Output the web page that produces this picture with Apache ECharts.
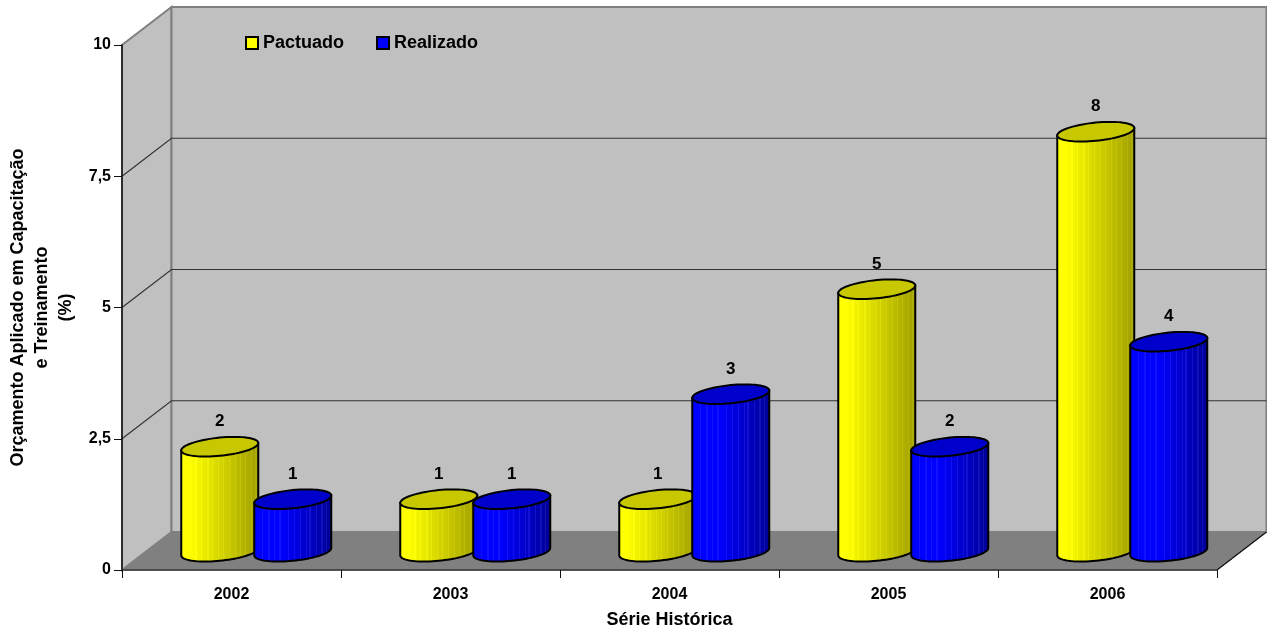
<!DOCTYPE html>
<html>
<head>
<meta charset="utf-8">
<script src="https://cdn.jsdelivr.net/npm/echarts@6/dist/echarts.min.js"></script>
<style>html,body{margin:0;padding:0;background:#fff}#c{width:1267px;height:635px}</style>
</head>
<body>
<div id="c"></div>
<script>
var categories = ['2002', '2003', '2004', '2005', '2006'];
var pactuado = [2, 1, 1, 5, 8];
var realizado = [1, 1, 3, 2, 4];
var gridValues = [2.5, 5, 7.5, 10];

var FONT = '"Liberation Sans", Arial, sans-serif';
var DEPTH_X = 49.5, DEPTH_Y = -38;
var TILT = 3.7, MINOR = 9.1, RADIUS_FRACTION = 77 / 219 / 2;
var stripesYellow = [0.07,0.13,0.2,0.27,0.35,0.41,0.48,0.55,0.62,0.7,0.76,0.83,0.9,0.96];
var stripesBlue = [0.12,0.2,0.27,0.34,0.45,0.52,0.6,0.67,0.72,0.8,0.87,0.93];

var chart = echarts.init(document.getElementById('c'), null, {renderer: 'canvas'});

function factor(dark, plateau, t) {
  return t < plateau ? 1 : 1 - (t - plateau) / (1 - plateau) * (1 - dark);
}
function rgb(base, k, add) {
  return 'rgb(' + base.map(function (c) { return Math.min(255, Math.round(c * k + add)); }).join(',') + ')';
}
function bodyFill(base, dark, plateau, stripes, add) {
  var stops = [];
  var w = 0.008;
  stops.push({offset: 0, color: rgb(base, 1, 0)});
  stripes.forEach(function (s) {
    var k = factor(dark, plateau, s);
    stops.push({offset: s - w, color: rgb(base, factor(dark, plateau, s - w), 0)});
    stops.push({offset: s - w, color: rgb(base, k, add)});
    stops.push({offset: s + w, color: rgb(base, k, add)});
    stops.push({offset: s + w, color: rgb(base, factor(dark, plateau, s + w), 0)});
  });
  stops.push({offset: 1, color: rgb(base, dark, 0)});
  return new echarts.graphic.LinearGradient(0, 0, 1, 0, stops);
}

function ellipsePoints(cx, cy, rx, from, to, n) {
  var pts = [];
  for (var i = 0; i <= n; i++) {
    var t = from + (to - from) * i / n;
    pts.push([cx + rx * Math.cos(t), cy - TILT * Math.cos(t) + MINOR * Math.sin(t)]);
  }
  return pts;
}

function cylinderRender(side, bodyColors, topColor) {
  return function (params, api) {
    var band = api.size([1, 0])[0];
    var base = api.coord([api.value(0), 0]);
    var top = api.coord([api.value(0), api.value(1)]);
    var cx = base[0] + DEPTH_X / 2 + side * band / 6;
    var by = base[1] + DEPTH_Y / 2 + 0.7;
    var ty = top[1] + DEPTH_Y / 2 + 0.7;
    var rx = band * RADIUS_FRACTION;
    var body = ellipsePoints(cx, by, rx, 0, Math.PI, 40);
    body.unshift([cx + rx, ty - TILT]);
    body.push([cx - rx, ty + TILT]);
    return {
      type: 'group',
      children: [
        {type: 'polygon', shape: {points: body},
          style: {fill: bodyColors, stroke: '#000', lineWidth: 2}},
        {type: 'polygon', shape: {points: ellipsePoints(cx, ty, rx, 0, Math.PI * 2, 72)},
          style: {fill: topColor, stroke: '#000', lineWidth: 2}},
        {type: 'text', x: cx, y: ty - 25,
          style: {text: String(api.value(1)), font: 'bold 17px ' + FONT, fill: '#000',
            align: 'center', verticalAlign: 'middle'}}
      ]
    };
  };
}

function wallsRender(params, api) {
  var c = params.coordSys;
  var L = c.x, R = c.x + c.width, B = c.y + c.height;
  var yTop = api.coord([0, 10])[1];
  var els = [];
  els.push({type: 'polygon', shape: {points: [[L, B], [L + DEPTH_X, B + DEPTH_Y], [L + DEPTH_X, yTop + DEPTH_Y], [L, yTop]]},
    style: {fill: '#c0c0c0', stroke: '#808080', lineWidth: 2}});
  els.push({type: 'polygon', shape: {points: [[L + DEPTH_X, B + DEPTH_Y], [R + DEPTH_X, B + DEPTH_Y], [R + DEPTH_X, yTop + DEPTH_Y], [L + DEPTH_X, yTop + DEPTH_Y]]},
    style: {fill: '#c0c0c0', stroke: '#808080', lineWidth: 2}});
  els.push({type: 'polygon', shape: {points: [[L, B], [L + DEPTH_X, B + DEPTH_Y], [R + DEPTH_X, B + DEPTH_Y], [R, B]]},
    style: {fill: '#808080', stroke: '#808080', lineWidth: 1}});
  gridValues.slice(0, 3).forEach(function (v) {
    var y = api.coord([0, v])[1];
    els.push({type: 'polyline', shape: {points: [[L, y], [L + DEPTH_X, y + DEPTH_Y], [R + DEPTH_X, y + DEPTH_Y]]},
      style: {fill: 'none', stroke: '#333', lineWidth: 1.2}});
  });
  els.push({type: 'line', shape: {x1: R, y1: B, x2: R + DEPTH_X, y2: B + DEPTH_Y},
    style: {stroke: '#111', lineWidth: 1.2}});
  return {type: 'group', children: els};
}

function toPoints(values) {
  return values.map(function (v, i) { return [i, v]; });
}

chart.setOption({
  animation: false,
  backgroundColor: '#fff',
  grid: {left: 122, right: 50, top: 45, bottom: 65, containLabel: false, outerBoundsMode: 'none'},
  legend: {
    data: ['Pactuado', 'Realizado'],
    left: 240, top: 29, itemWidth: 12, itemHeight: 12, itemGap: 32,
    selectedMode: false, icon: 'rect',
    textStyle: {fontFamily: FONT, fontWeight: 'bold', fontSize: 18, color: '#000'}
  },
  xAxis: {
    type: 'category', data: categories, z: 5,
    name: 'Série Histórica', nameLocation: 'middle', nameGap: 41,
    nameTextStyle: {fontFamily: FONT, fontWeight: 'bold', fontSize: 18, color: '#000'},
    axisLine: {lineStyle: {color: '#333', width: 1.5}},
    axisTick: {show: true, length: 8, alignWithLabel: false, lineStyle: {color: '#111'}},
    axisLabel: {fontFamily: FONT, fontWeight: 'bold', fontSize: 16, color: '#000', margin: 17}
  },
  yAxis: {
    type: 'value', min: 0, max: 10, interval: 2.5, z: 5,
    name: 'Orçamento Aplicado em Capacitação\ne Treinamento\n(%)',
    nameLocation: 'middle', nameRotate: 90, nameGap: 44,
    nameTextStyle: {fontFamily: FONT, fontWeight: 'bold', fontSize: 18, color: '#000', lineHeight: 24},
    axisLine: {show: true, lineStyle: {color: '#111', width: 1.5}},
    axisTick: {show: true, length: 8, lineStyle: {color: '#111'}},
    splitLine: {show: false},
    axisLabel: {fontFamily: FONT, fontWeight: 'bold', fontSize: 16, color: '#000', margin: 11,
      formatter: function (v) { return String(v).replace('.', ','); }}
  },
  series: [
    {type: 'custom', name: 'walls', z: 1, silent: true, data: [[0, 0]], renderItem: wallsRender,
      encode: {x: 0, y: 1}},
    {type: 'custom', name: 'Pactuado', z: 3, data: toPoints(pactuado),
      itemStyle: {color: '#ffff00', borderColor: '#000', borderWidth: 1.5},
      encode: {x: 0, y: 1},
      renderItem: cylinderRender(-1, bodyFill([255, 255, 0], 0.62, 0.12, stripesYellow, 10), '#c8c800')},
    {type: 'custom', name: 'Realizado', z: 4, data: toPoints(realizado),
      itemStyle: {color: '#0000ff', borderColor: '#000', borderWidth: 1.5},
      encode: {x: 0, y: 1},
      renderItem: cylinderRender(1, bodyFill([0, 0, 255], 0.58, 0.35, stripesBlue, 18), '#0000cc')}
  ]
});
</script>
</body>
</html>
